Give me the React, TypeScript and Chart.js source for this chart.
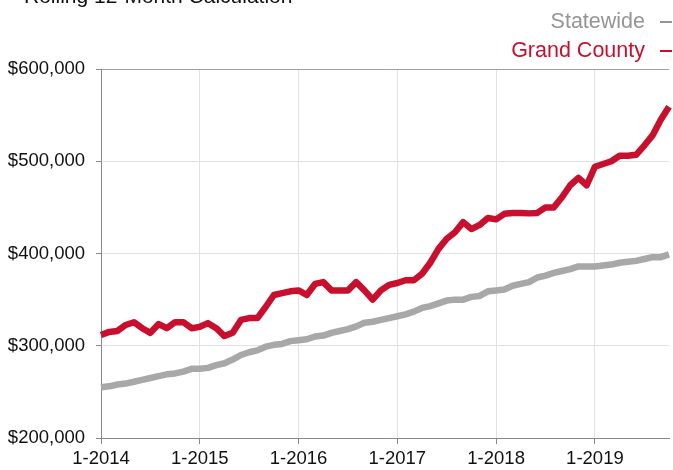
import React, { useEffect, useRef } from "react";
import { Chart, registerables } from "chart.js";

Chart.register(...registerables);

// Monthly categories 1-2014 .. 10-2019
const YEARS = [2014, 2015, 2016, 2017, 2018, 2019];
const MONTHS: string[] = [];
YEARS.forEach((y) => {
  for (let m = 1; m <= 12; m++) {
    if (y === 2019 && m > 10) break;
    MONTHS.push(`${m}-${y}`);
  }
});

// values in thousands of dollars
const STATEWIDE = [
  255, 256, 258, 259, 261, 263, 265, 267, 269, 270,
  272, 275, 275, 276, 279, 281, 285, 290, 293, 295,
  299, 301, 302, 305, 306, 307, 310, 311, 314, 316,
  318, 321, 325, 326, 328, 330, 332, 334, 337, 341,
  343, 346, 349, 350, 350, 353, 354, 359, 360, 361,
  365, 367, 369, 374, 376, 379, 381, 383, 386, 386,
  386, 387, 388, 390, 391, 392, 394, 396, 396, 399,
];

const GRAND_COUNTY = [
  311.7, 315, 316, 322.5, 325.5, 319, 314, 323.5, 319, 325.5,
  325.5, 319, 320.5, 324.5, 319, 310.5, 314, 328, 330, 330,
  342, 355, 357, 359, 360, 355, 367, 369, 360, 360,
  360, 369, 360, 350, 360, 366, 368, 371, 371, 378,
  390, 405, 416, 423, 434, 426.5, 431, 438.5, 437, 443,
  444, 444, 443.5, 444, 450, 450, 461, 474, 482, 474,
  494, 497, 500, 506, 506, 507, 517, 528, 545, 559,
];

const Y_MIN = 200;
const Y_MAX = 600;
const Y_STEP = 100;

const TITLE = "Rolling 12-Month Calculation";
const SERIES_NAMES = ["Statewide", "Grand County"];

const RED = "#c8102e";
const GRAY = "#a8a8a8";
const FONT = "'Liberation Sans', Arial, Helvetica, sans-serif";

export default function App() {
  const ref = useRef<HTMLCanvasElement | null>(null);

  useEffect(() => {
    if (!ref.current) return;
    const chart = new Chart(ref.current, {
      type: "line",
      data: {
        labels: MONTHS,
        datasets: [
          {
            label: SERIES_NAMES[0],
            data: STATEWIDE,
            borderColor: GRAY,
            backgroundColor: GRAY,
            borderWidth: 6.5,
            pointRadius: 0,
            tension: 0,
            borderJoinStyle: "round",
          },
          {
            label: SERIES_NAMES[1],
            data: GRAND_COUNTY,
            borderColor: RED,
            backgroundColor: RED,
            borderWidth: 6.5,
            pointRadius: 0,
            tension: 0,
            borderJoinStyle: "round",
          },
        ],
      },
      options: {
        responsive: false,
        animation: false,
        devicePixelRatio: 1,
        layout: { padding: { top: 69, left: 0, right: 0, bottom: 0 } },
        plugins: {
          legend: { display: false },
          title: { display: false },
          tooltip: { enabled: false },
        },
        scales: {
          x: {
            type: "category",
            offset: false,
            grid: {
              color: (ctx: any) =>
                MONTHS[ctx.index] && MONTHS[ctx.index].startsWith("1-") ? "#e2e2e2" : "rgba(0,0,0,0)",
              tickColor: (ctx: any) =>
                MONTHS[ctx.index] && MONTHS[ctx.index].startsWith("1-") ? "#888888" : "rgba(0,0,0,0)",
              tickLength: 6,
              lineWidth: 1,
            },
            border: { display: true, color: "#888888", width: 1 },
            ticks: {
              autoSkip: false,
              maxRotation: 0,
              minRotation: 0,
              padding: 4,
              color: "#111111",
              font: { family: FONT, size: 18.5 },
              callback: (_v: any, i: number) => (MONTHS[i].startsWith("1-") ? MONTHS[i] : ""),
            },
            afterFit: (s: any) => {
              s.height = 32;
            },
          },
          y: {
            min: Y_MIN,
            max: Y_MAX,
            grid: {
              color: (ctx: any) => (ctx.tick && ctx.tick.value === Y_MAX ? "#a0a0a0" : "#e2e2e2"),
              tickColor: "#888888",
              tickLength: 5,
              lineWidth: 1,
            },
            border: { display: true, color: "#888888", width: 1 },
            ticks: {
              stepSize: Y_STEP,
              padding: 11,
              color: "#111111",
              font: { family: FONT, size: 18.5 },
              callback: (v: any) => "$" + v + ",000",
            },
            afterFit: (s: any) => {
              s.width = 101;
            },
          },
        },
      },
    });
    return () => chart.destroy();
  }, []);

  const legendLine = (text: string, color: string, top: number) => (
    <div
      style={{
        position: "absolute",
        right: 1,
        top,
        fontFamily: FONT,
        fontSize: 21.5,
        lineHeight: "24px",
        color,
        whiteSpace: "nowrap",
      }}
    >
      {text}
      <span
        style={{
          display: "inline-block",
          width: 12,
          height: 2,
          marginLeft: 15,
          background: color,
          verticalAlign: "middle",
        }}
      />
    </div>
  );

  return (
    <div
      style={{
        position: "absolute",
        left: 0,
        top: 0,
        width: 673,
        height: 470,
        overflow: "hidden",
        background: "#ffffff",
      }}
    >
      <canvas ref={ref} width={673} height={470} style={{ display: "block" }} />
      <div
        style={{
          position: "absolute",
          left: 24,
          top: -14,
          fontFamily: FONT,
          fontSize: 21,
          lineHeight: "20px",
          color: "#111111",
          whiteSpace: "nowrap",
        }}
      >
        {TITLE}
      </div>
      {legendLine(SERIES_NAMES[0], "#959595", 9)}
      {legendLine(SERIES_NAMES[1], RED, 38)}
    </div>
  );
}
